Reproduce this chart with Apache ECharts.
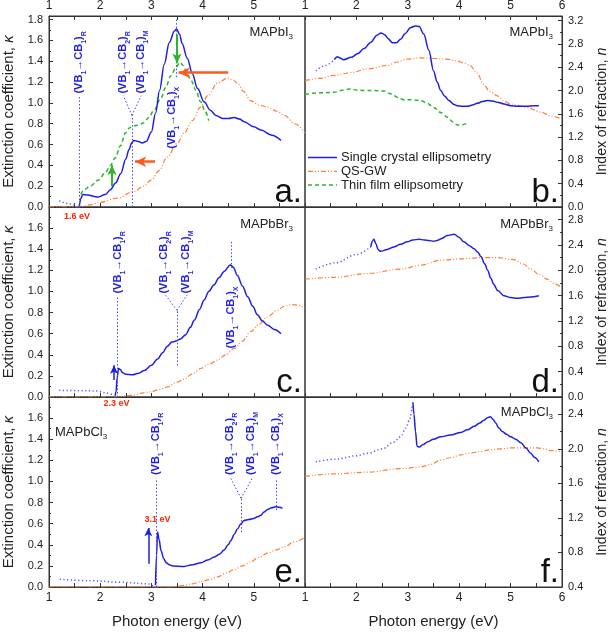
<!DOCTYPE html>
<html><head><meta charset="utf-8">
<script src="https://cdn.jsdelivr.net/npm/echarts@6/dist/echarts.min.js"></script>
<style>html,body{margin:0;padding:0;background:#fff}#chart{width:612px;height:633px}</style>
</head><body><div id="chart"></div>
<script>
// ---- data ----
var aSingleDot=[[1.2,0.06],[1.4,0.03],[1.57,0]];
var aSingle=[[1.59,0],[1.62,0.08],[1.66,0.12],[1.75,0.115],[1.95,0.095],[2.1,0.12],[2.2,0.165],[2.3,0.23],[2.4,0.32],[2.5,0.46],[2.56,0.55],[2.62,0.62],[2.66,0.64],[2.74,0.63],[2.82,0.615],[2.9,0.63],[3.0,0.72],[3.08,0.9],[3.16,1.12],[3.25,1.37],[3.35,1.58],[3.45,1.69],[3.49,1.71],[3.55,1.66],[3.6,1.57],[3.7,1.43],[3.8,1.28],[3.9,1.14],[4.03,1.01],[4.15,0.93],[4.26,0.88],[4.39,0.85],[4.5,0.85],[4.62,0.86],[4.72,0.845],[4.81,0.82],[5.0,0.77],[5.14,0.74],[5.35,0.69],[5.53,0.64]];
var aQSGW=[[1,0],[1.6,0],[1.8,0.02],[2.0,0.045],[2.34,0.086],[2.66,0.15],[2.85,0.2],[3.0,0.26],[3.15,0.35],[3.31,0.48],[3.5,0.61],[3.64,0.71],[3.8,0.83],[3.96,0.96],[4.1,1.07],[4.29,1.19],[4.49,1.24],[4.6,1.22],[4.68,1.19],[4.8,1.11],[4.94,1.02],[5.1,0.98],[5.27,0.96],[5.45,0.92],[5.6,0.88],[5.8,0.8],[6.0,0.71]];
var aThin=[[1.62,0.12],[1.7,0.17],[1.8,0.2],[1.97,0.26],[2.1,0.33],[2.2,0.4],[2.29,0.47],[2.4,0.59],[2.49,0.71],[2.57,0.76],[2.65,0.78],[2.75,0.785],[2.85,0.81],[2.95,0.86],[3.05,0.93],[3.18,1.04],[3.28,1.15],[3.38,1.26],[3.48,1.34],[3.56,1.39],[3.62,1.36],[3.7,1.28],[3.77,1.22],[3.87,1.12],[3.96,1.01],[4.05,0.92],[4.12,0.83]];

var bSingleDot=[[1.21,2.34],[1.4,2.43],[1.57,2.53]];
var bSingle=[[1.57,2.53],[1.63,2.58],[1.68,2.56],[1.75,2.53],[1.9,2.57],[2.02,2.63],[2.15,2.72],[2.28,2.83],[2.4,2.95],[2.48,2.99],[2.55,2.96],[2.62,2.89],[2.7,2.82],[2.78,2.82],[2.86,2.88],[2.95,2.98],[3.05,3.08],[3.15,3.11],[3.22,3.1],[3.31,2.97],[3.41,2.69],[3.5,2.34],[3.57,2.15],[3.64,2.0],[3.72,1.9],[3.8,1.83],[3.9,1.76],[3.96,1.74],[4.06,1.73],[4.16,1.73],[4.26,1.75],[4.35,1.78],[4.45,1.81],[4.55,1.83],[4.65,1.82],[4.74,1.8],[4.87,1.77],[5.0,1.74],[5.15,1.73],[5.32,1.73],[5.45,1.74],[5.55,1.74]];
var bQSGW=[[1,2.17],[1.3,2.21],[1.57,2.26],[1.9,2.31],[2.22,2.37],[2.6,2.43],[2.8,2.49],[2.98,2.54],[3.25,2.56],[3.5,2.55],[3.75,2.54],[3.95,2.51],[4.1,2.47],[4.21,2.43],[4.35,2.3],[4.47,2.11],[4.6,1.98],[4.74,1.91],[4.87,1.82],[5.0,1.77],[5.15,1.74],[5.32,1.71],[5.58,1.63],[5.8,1.56],[6.0,1.51]];
var bThin=[[1,1.94],[1.3,1.96],[1.57,1.97],[1.75,2.01],[1.89,2.03],[2.0,2.01],[2.15,2.0],[2.35,2.0],[2.54,1.99],[2.65,1.95],[2.73,1.91],[2.85,1.86],[2.93,1.84],[3.1,1.84],[3.25,1.83],[3.38,1.78],[3.5,1.71],[3.65,1.62],[3.77,1.54],[3.88,1.46],[3.96,1.41],[4.05,1.41],[4.16,1.44]];

var cSingleDot=[[1.2,0.063],[1.6,0.06],[1.94,0.057],[2.1,0.04],[2.27,0.016]];
var cSingle=[[2.29,0.01],[2.31,0.05],[2.33,0.18],[2.36,0.27],[2.39,0.26],[2.44,0.23],[2.5,0.215],[2.63,0.21],[2.75,0.225],[2.86,0.25],[3.0,0.3],[3.12,0.36],[3.22,0.42],[3.31,0.48],[3.4,0.52],[3.48,0.53],[3.57,0.55],[3.67,0.59],[3.76,0.66],[3.84,0.73],[3.94,0.83],[4.03,0.92],[4.12,1.0],[4.22,1.06],[4.32,1.13],[4.42,1.19],[4.54,1.25],[4.6,1.23],[4.68,1.15],[4.78,1.05],[4.88,0.95],[4.98,0.86],[5.07,0.78],[5.17,0.72],[5.27,0.68],[5.4,0.64],[5.53,0.6]];
var cQSGW=[[1,0],[2.3,0],[2.5,0.01],[2.66,0.02],[2.85,0.04],[2.99,0.05],[3.15,0.07],[3.31,0.095],[3.5,0.14],[3.64,0.17],[3.8,0.22],[3.96,0.27],[4.12,0.31],[4.29,0.35],[4.45,0.4],[4.62,0.46],[4.78,0.53],[4.94,0.62],[5.1,0.69],[5.27,0.76],[5.45,0.82],[5.6,0.86],[5.75,0.875],[5.86,0.87],[6.0,0.84]];

var dSingleDot=[[1.21,2.02],[1.6,2.12],[2.0,2.25],[2.28,2.37]];
var dSingle=[[2.28,2.37],[2.31,2.46],[2.34,2.49],[2.38,2.42],[2.42,2.33],[2.47,2.3],[2.6,2.33],[2.73,2.37],[2.86,2.41],[2.99,2.45],[3.1,2.48],[3.22,2.49],[3.32,2.48],[3.41,2.47],[3.5,2.46],[3.57,2.47],[3.65,2.5],[3.77,2.55],[3.9,2.57],[4.0,2.52],[4.09,2.45],[4.2,2.39],[4.29,2.34],[4.36,2.29],[4.42,2.22],[4.5,2.1],[4.55,2.0],[4.62,1.87],[4.67,1.78],[4.75,1.68],[4.87,1.6],[5.0,1.57],[5.13,1.56],[5.26,1.57],[5.39,1.58],[5.55,1.6]];
var dQSGW=[[1,1.86],[1.57,1.89],[2.22,1.95],[2.86,2.02],[3.25,2.08],[3.64,2.16],[4.03,2.18],[4.42,2.2],[4.74,2.2],[5.06,2.17],[5.25,2.1],[5.39,2.02],[5.55,1.94],[5.71,1.86],[5.85,1.79],[6.0,1.72]];

var eSingleDot=[[1.21,0.073],[1.8,0.06],[2.4,0.045],[2.93,0.03],[3.06,0.0]];
var eSingle=[[3.08,0.016],[3.1,0.3],[3.12,0.52],[3.15,0.45],[3.19,0.34],[3.24,0.27],[3.29,0.23],[3.35,0.21],[3.42,0.2],[3.64,0.195],[3.8,0.21],[3.97,0.23],[4.1,0.255],[4.23,0.285],[4.33,0.31],[4.42,0.35],[4.5,0.4],[4.55,0.44],[4.62,0.5],[4.68,0.55],[4.75,0.6],[4.81,0.63],[4.9,0.64],[5.0,0.65],[5.07,0.665],[5.14,0.68],[5.2,0.71],[5.27,0.735],[5.35,0.75],[5.43,0.76],[5.5,0.755],[5.56,0.745]];
var eQSGW=[[1,0],[3.4,0],[3.64,0.016],[3.8,0.03],[3.97,0.05],[4.13,0.07],[4.29,0.095],[4.45,0.13],[4.62,0.165],[4.78,0.2],[4.94,0.24],[5.1,0.28],[5.27,0.32],[5.43,0.35],[5.59,0.38],[5.8,0.43],[6.0,0.47]];

var fSingleDot=[[1.21,1.85],[1.6,1.88],[2.0,1.92],[2.22,1.95],[2.51,2.0],[2.73,2.08],[2.86,2.14],[2.96,2.24],[3.03,2.33],[3.09,2.51]];
var fSingle=[[3.1,2.54],[3.12,2.4],[3.15,2.2],[3.18,2.03],[3.22,2.02],[3.3,2.05],[3.38,2.08],[3.5,2.11],[3.64,2.14],[3.83,2.16],[4.03,2.19],[4.16,2.22],[4.29,2.26],[4.4,2.3],[4.48,2.33],[4.55,2.36],[4.61,2.37],[4.66,2.34],[4.71,2.3],[4.77,2.24],[4.84,2.2],[4.92,2.17],[5.0,2.14],[5.1,2.11],[5.2,2.07],[5.3,2.01],[5.39,1.95],[5.47,1.9],[5.55,1.85]];
var fQSGW=[[1,1.68],[1.57,1.71],[2.22,1.73],[2.86,1.77],[3.25,1.79],[3.45,1.82],[3.64,1.87],[3.85,1.9],[4.03,1.93],[4.22,1.95],[4.42,1.97],[4.61,1.99],[4.81,2.0],[5.0,2.01],[5.13,2.01],[5.35,2.01],[5.52,2.01],[5.65,2.0],[5.78,1.98],[6.0,1.97]];

// transition guide lines (dotted) and arrows
var aGuides=[[[1.6,0],[1.6,1.07]],[[2.62,0],[2.62,0.88]],[[2.62,0.88],[2.45,1.07]],[[2.62,0.88],[2.8,1.07]],[[3.48,1.8],[3.48,1.24]]];
var cGuides=[[[2.34,0],[2.34,0.95]],[[3.5,0.3],[3.5,0.82]],[[3.5,0.82],[3.27,0.97]],[[3.5,0.82],[3.7,0.97]],[[4.55,1.47],[4.55,1.22]]];
var eGuides=[[[3.1,0],[3.1,1.03]],[[4.75,0.52],[4.75,0.84]],[[4.75,0.84],[4.55,1.03]],[[4.75,0.84],[4.97,1.03]],[[5.44,0.73],[5.44,1.03]]];
var aGreenArrows=[[[2.23,0.2],[2.23,0.4]],[[3.5,1.66],[3.5,1.38]]];
var aOrangeArrows=[[[4.5,1.29],[3.53,1.29]],[[3.07,0.435],[2.68,0.435]]];
var cBlueArrows=[[[2.27,0.16],[2.27,0.3]]];
var eBlueArrows=[[[2.94,0.22],[2.94,0.56]]];

// transition labels: [x, y start, type]
var aTrans=[[1.6,1.09,'R11'],[2.45,1.09,'R12'],[2.8,1.09,'M11'],[3.42,0.56,'X11']];
var cTrans=[[2.36,0.98,'R11'],[3.26,0.98,'R12'],[3.69,0.98,'M11'],[4.56,0.46,'X11']];
var eTrans=[[3.1,1.06,'R11'],[4.55,1.06,'R12'],[4.96,1.06,'M11'],[5.45,1.06,'X11']];
var transText={
  R11:'(VB{s|1}→CB{s|1}){s|R}', R12:'(VB{s|1}→CB{s|2}){s|R}',
  M11:'(VB{s|1}→CB{s|1}){s|M}', X11:'(VB{s|1}→CB{s|1}){s|X}'
};
var gapLabels=[[2,1.545,1.71,'1.6 eV'],[4,2.32,1.74,'2.3 eV'],[4,3.12,0.64,'3.1 eV']];
var formulas=['MAPbI{s|3}','MAPbI{s|3}','MAPbBr{s|3}','MAPbBr{s|3}','MAPbCl{s|3}','MAPbCl{s|3}'];
var panelLetters=['a.','b.','c.','d.','e.','f.'];
var yRanges=[[0,1.835,0.2],[0,3.28,0.4],[0,1.8,0.2],[0,3.0,0.4],[0,1.8,0.2],[0.4,2.6,0.4]];
var yLabelMax=[1.8,3.2,1.6,2.8,1.6,2.4];
var legendNames=['Single crystal ellipsometry','QS-GW','Thin film ellipsometry'];

var BLUE='#1e1ee8', BLUE_DOT='#5555ff', GUIDE='#4646ff', ORANGE='#ff7d35', ARROW_OR='#ff5a1e', GREEN='#2cb52c', RED='#ff2200';
var FONT='Liberation Sans, Arial, sans-serif';

var chart=echarts.init(document.getElementById('chart'));

var grids=[
  {left:48,top:15,width:257,height:192},{left:305,top:15,width:257,height:192},
  {left:48,top:207,width:257,height:190},{left:305,top:207,width:257,height:190},
  {left:48,top:397,width:257,height:190},{left:305,top:397,width:257,height:190}
];
grids.forEach(function(g){g.show=true;g.borderColor='#333';g.borderWidth=1;g.containLabel=false;});

function xLabelFmt(leftCol){
  return function(v){ return (leftCol&&v===6)?'':String(v); };
}
var xAxes=[], yAxes=[];
for(var i=0;i<6;i++){
  var bottomRow=i>=4;
  xAxes.push({
    type:'value',gridIndex:i,min:1,max:6,interval:1,position:'bottom',
    axisLine:{show:true,lineStyle:{color:'#333'}},
    axisTick:{show:true,inside:true,length:4,lineStyle:{color:'#333'}},
    minorTick:{show:true,splitNumber:2,length:4,lineStyle:{color:'#333'}},
    splitLine:{show:false},
    axisLabel:{show:bottomRow,color:'#222',fontSize:12,fontFamily:FONT,margin:5,formatter:xLabelFmt(i%2===0)},
    name:bottomRow?'Photon energy (eV)':'',nameLocation:'middle',nameGap:27,
    nameTextStyle:{fontSize:15,color:'#222',fontFamily:FONT}
  });
  (function(idx){
    var r=yRanges[idx], lm=yLabelMax[idx], left=(idx%2===0);
    yAxes.push({
      type:'value',gridIndex:idx,min:r[0],max:r[1],interval:r[2],position:left?'left':'right',
      axisLine:{show:true,lineStyle:{color:'#333'}},
      axisTick:{show:true,inside:true,length:4,lineStyle:{color:'#333'}},
      minorTick:{show:true,splitNumber:2,length:2,lineStyle:{color:'#333'}},
      splitLine:{show:false},
      axisLabel:{color:'#222',fontSize:11,fontFamily:FONT,margin:6,
        formatter:function(v){
          var k=(v-r[0])/r[2];
          if(Math.abs(k-Math.round(k))>1e-6||v>lm+1e-9) return '';
          return v.toFixed(1);
        }},
      name:left?'Extinction coefficient, {i|κ}':'Index of refraction, {i|n}',
      nameLocation:'middle',nameGap:left?33:33,
      nameTextStyle:{fontSize:left?15:14,color:'#222',fontFamily:FONT,
        rich:{i:{fontSize:left?15:14,fontStyle:'italic',color:'#222',fontFamily:FONT}}}
    });
  })(i);
}
[0,1].forEach(function(g){
  xAxes.push({
    type:'value',gridIndex:g,min:1,max:6,interval:1,position:'top',
    axisLine:{show:true,lineStyle:{color:'#333'}},
    axisTick:{show:true,inside:true,length:4,lineStyle:{color:'#333'}},
    minorTick:{show:true,splitNumber:2,length:4,lineStyle:{color:'#333'}},
    splitLine:{show:false},
    axisLabel:{color:'#222',fontSize:12,fontFamily:FONT,margin:4,formatter:xLabelFmt(g===0)}
  });
});

function ln(name,data,g,color,type,width,z){
  return {type:'line',name:name,data:data,xAxisIndex:g,yAxisIndex:g,symbol:'none',
    smooth:0.35,smoothMonotone:'x',z:z||3,
    lineStyle:{color:color,type:type,width:width},itemStyle:{color:color}};
}
var SC=legendNames[0], QS=legendNames[1], TF=legendNames[2];
var DASHDOT=[5,2,1,2,1,2], DASH=[4,3], DOT=[1.2,2.5];

function marks(g,guides,arrowSets){
  var data=[];
  guides.forEach(function(s){
    data.push([{coord:s[0],symbol:'none',lineStyle:{color:GUIDE,type:[1.5,2],width:1}},{coord:s[1],symbol:'none'}]);
  });
  arrowSets.forEach(function(set){
    set.list.forEach(function(s){
      data.push([{coord:s[0],symbol:'none',lineStyle:{color:set.color,type:'solid',width:set.width}},
                 {coord:s[1],symbol:'arrow',symbolSize:[set.head,set.head*1.4]}]);
    });
  });
  return {type:'line',data:[],xAxisIndex:g,yAxisIndex:g,z:2,
    markLine:{silent:true,animation:false,label:{show:false},symbol:['none','none'],data:data}};
}

var series=[
  ln('',aSingleDot,0,BLUE_DOT,DOT,1.5), ln(QS,aQSGW,0,ORANGE,DASHDOT,1.2), ln(TF,aThin,0,GREEN,DASH,1.5), ln(SC,aSingle,0,BLUE,'solid',1.5,4),
  ln('',bSingleDot,1,BLUE_DOT,DOT,1.5), ln(QS,bQSGW,1,ORANGE,DASHDOT,1.2), ln(TF,bThin,1,GREEN,DASH,1.5), ln(SC,bSingle,1,BLUE,'solid',1.5,4),
  ln('',cSingleDot,2,BLUE_DOT,DOT,1.5), ln(QS,cQSGW,2,ORANGE,DASHDOT,1.2), ln(SC,cSingle,2,BLUE,'solid',1.5,4),
  ln('',dSingleDot,3,BLUE_DOT,DOT,1.5), ln(QS,dQSGW,3,ORANGE,DASHDOT,1.2), ln(SC,dSingle,3,BLUE,'solid',1.5,4),
  ln('',eSingleDot,4,BLUE_DOT,DOT,1.5), ln(QS,eQSGW,4,ORANGE,DASHDOT,1.2), ln(SC,eSingle,4,BLUE,'solid',1.5,4),
  ln('',fSingleDot,5,BLUE_DOT,DOT,1.5), ln(QS,fQSGW,5,ORANGE,DASHDOT,1.2), ln(SC,fSingle,5,BLUE,'solid',1.5,4),
  marks(0,aGuides,[{list:aGreenArrows,color:GREEN,width:2,head:7},{list:aOrangeArrows,color:ARROW_OR,width:2.5,head:8}]),
  marks(2,cGuides,[{list:cBlueArrows,color:BLUE,width:1.5,head:6}]),
  marks(4,eGuides,[{list:eBlueArrows,color:BLUE,width:1.5,head:6}])
];

chart.setOption({
  animation:false,
  backgroundColor:'#fff',
  grid:grids,xAxis:xAxes,yAxis:yAxes,series:series
});

// text annotations positioned through the axes
var graphics=[];
var subRich={
  m:{fontSize:11,fontWeight:'bold',fontFamily:FONT,lineHeight:12,verticalAlign:'top'},
  s:{fontSize:7,fontWeight:'bold',fontFamily:FONT,lineHeight:8,padding:[7,0,0,0],verticalAlign:'top'}
};
function transLabel(g,t){
  var p=chart.convertToPixel({gridIndex:g},[t[0],t[1]]);
  var txt=transText[t[2]].replace(/(^|\})([^{}]+?)(?=\{|$)/g,function(m,a,b){return a+'{m|'+b+'}';});
  graphics.push({type:'text',x:p[0],y:p[1],rotation:Math.PI/2,z:10,
    style:{text:txt,fill:BLUE,align:'left',verticalAlign:'middle',font:'bold 11px '+FONT,rich:subRich}});
}
aTrans.forEach(function(t){transLabel(0,t);});
cTrans.forEach(function(t){transLabel(2,t);});
eTrans.forEach(function(t){transLabel(4,t);});
gapLabels.forEach(function(l){
  var p=chart.convertToPixel({gridIndex:l[0]},[l[1],l[2]]);
  graphics.push({type:'text',x:p[0],y:p[1],z:10,
    style:{text:l[3],fill:RED,align:'center',verticalAlign:'middle',font:'bold 9px '+FONT}});
});
var fRich={m:{fontSize:13,fontFamily:FONT,lineHeight:14,verticalAlign:'top'},
           s:{fontSize:8,fontFamily:FONT,lineHeight:9,padding:[7,0,0,0],verticalAlign:'top'}};
grids.forEach(function(g,i){
  var right=g.left+g.width, bottom=g.top+g.height;
  var ftxt=formulas[i].replace(/^([^{]+)/,'{m|$1}');
  if(i===4){
    graphics.push({type:'text',x:g.left+7,y:g.top+36,z:10,style:{text:ftxt,fill:'#222',align:'left',verticalAlign:'middle',rich:fRich}});
  }else{
    var fy=(i===5)?g.top+16:g.top+18;
    graphics.push({type:'text',x:right-(i%2===0?12:9),y:fy,z:10,style:{text:ftxt,fill:'#222',align:'right',verticalAlign:'middle',rich:fRich}});
  }
  graphics.push({type:'text',x:right-3,y:bottom+2,z:10,
    style:{text:panelLetters[i],fill:'#111',align:'right',verticalAlign:'bottom',font:'33px '+FONT}});
});
// legend drawn inside panel b
var lg=grids[1], legendStyles=[
  {stroke:BLUE,lineWidth:1.5},
  {stroke:ORANGE,lineWidth:1.2,lineDash:DASHDOT},
  {stroke:GREEN,lineWidth:1.5,lineDash:DASH}
];
legendNames.forEach(function(n,k){
  var y=lg.top+142.5+k*13.8;
  graphics.push({type:'line',z:10,shape:{x1:lg.left+3,y1:y,x2:lg.left+32,y2:y},style:legendStyles[k]});
  graphics.push({type:'text',z:10,x:lg.left+36,y:y,style:{text:n,fill:'#222',font:'13px '+FONT,align:'left',verticalAlign:'middle'}});
});
chart.setOption({graphic:graphics});
</script></body></html>
